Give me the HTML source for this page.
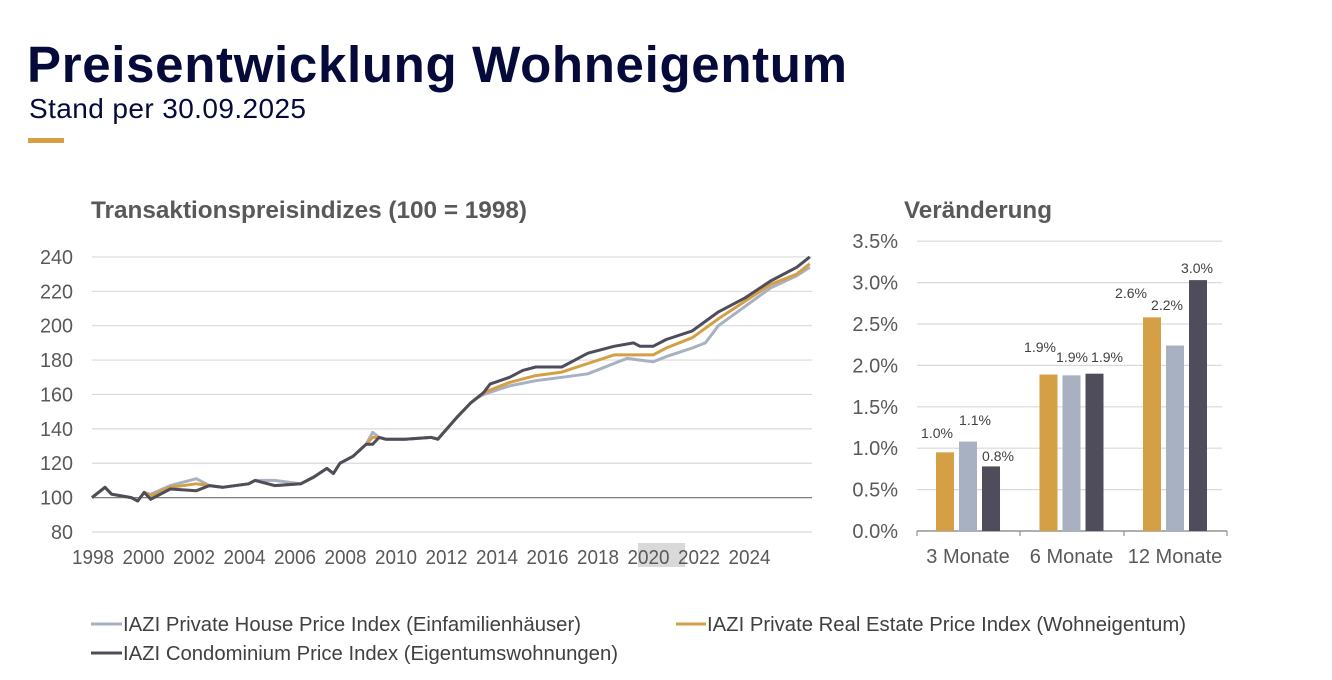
<!DOCTYPE html>
<html><head><meta charset="utf-8"><style>
body{margin:0;background:#fff;width:1332px;height:675px;overflow:hidden;font-family:"Liberation Sans",sans-serif}
</style></head><body>
<svg width="1332" height="675" xmlns="http://www.w3.org/2000/svg" font-family="Liberation Sans, sans-serif">
<text x="27" y="82" font-size="51" font-weight="bold" fill="#050a3a" textLength="820">Preisentwicklung Wohneigentum</text>
<text x="29" y="118" font-size="28" fill="#050a3a" textLength="277">Stand per 30.09.2025</text>
<rect x="28" y="138" width="36" height="5" fill="#d49f45"/>
<text x="91" y="218" font-size="24" font-weight="bold" fill="#595959" textLength="436" lengthAdjust="spacingAndGlyphs">Transaktionspreisindizes (100 = 1998)</text>
<text x="904" y="218" font-size="24" font-weight="bold" fill="#595959" textLength="148" lengthAdjust="spacingAndGlyphs">Veränderung</text>
<g id="lc"></g>
<g id="bc"></g>
<g font-size="20" fill="#404040">
<line x1="91" y1="624" x2="122" y2="624" stroke="#a7b1c2" stroke-width="3"/>
<text x="123" y="631" textLength="458" lengthAdjust="spacingAndGlyphs">IAZI Private House Price Index (Einfamilienhäuser)</text>
<line x1="676" y1="624" x2="706" y2="624" stroke="#d49f45" stroke-width="3"/>
<text x="707" y="631" textLength="479" lengthAdjust="spacingAndGlyphs">IAZI Private Real Estate Price Index (Wohneigentum)</text>
<line x1="91" y1="653" x2="122" y2="653" stroke="#4f4d5c" stroke-width="3"/>
<text x="123" y="660" textLength="495" lengthAdjust="spacingAndGlyphs">IAZI Condominium Price Index (Eigentumswohnungen)</text>
</g>
</svg>
<script>
const NS="http://www.w3.org/2000/svg";
function el(p,t,a,txt){const e=document.createElementNS(NS,t);for(const k in a)e.setAttribute(k,a[k]);if(txt!==undefined)e.textContent=txt;p.appendChild(e);return e;}
const lc=document.getElementById('lc');
const Y=v=>497.6-(v-100)*1.719;
for(let v=80;v<=240;v+=20){if(v!=100)el(lc,'line',{x1:92,x2:812,y1:Y(v),y2:Y(v),stroke:'#d9d9d9','stroke-width':1.2});
el(lc,'text',{x:73,y:Y(v)+7,'font-size':20,fill:'#595959','text-anchor':'end',textLength:v<100?22:33,lengthAdjust:'spacingAndGlyphs'},v);}
el(lc,'line',{x1:92,x2:812,y1:Y(100),y2:Y(100),stroke:'#7f7f7f','stroke-width':1.2});
el(lc,'rect',{x:638,y:543,width:47,height:24,fill:'#d9d9d9'});
for(let i=0;i<14;i++){el(lc,'text',{x:93+i*50.5,y:564,'font-size':20,fill:'#595959','text-anchor':'middle',textLength:42,lengthAdjust:'spacingAndGlyphs'},1998+2*i);}
const X=t=>92+(t-1998)*26.1;
const common=[[1998,100],[1998.5,106],[1998.75,102],[1999.5,100],[1999.75,98],[2000,103],[2000.25,99],[2001,105],[2002,104],[2002.5,107],[2003,106],[2004,108],[2004.25,110],[2005,107],[2006,108],[2006.5,112],[2007,117],[2007.25,114],[2007.5,120],[2008,124],[2008.5,131],[2008.75,131],[2009,135],[2009.25,134],[2010,134],[2011,135],[2011.25,134],[2012,147],[2012.5,155],[2012.75,158]];
const condo=common.concat([[2013,161],[2013.25,166],[2014,170],[2014.5,174],[2015,176],[2016,176],[2017,184],[2018,188],[2018.75,190],[2019,188],[2019.5,188],[2020,192],[2021,197],[2022,208],[2023,216],[2024,226],[2025,234],[2025.5,240]]);
const orng=common.map(p=>{let v=p[1];if(p[0]==2001)v=106;if(p[0]==2002)v=108;if(p[0]==2000.25)v=101;if(p[0]==2008.75)v=135;return [p[0],v];}).concat([[2013,161],[2014,167],[2015,171],[2016,173],[2017,178],[2018,183],[2019,183],[2019.5,183],[2020,187],[2021,193],[2022,204],[2023,214],[2024,224],[2025,230],[2025.5,236]]);
const gray=common.map(p=>{let v=p[1];if(p[0]==2001)v=107;if(p[0]==2002)v=111;if(p[0]==2000.25)v=102;if(p[0]==2008.75)v=138;if(p[0]==2005)v=110;return [p[0],v];}).concat([[2013,160],[2014,165],[2015,168],[2016,170],[2017,172],[2018,178],[2018.5,181],[2019.5,179],[2020,182],[2021,187],[2021.5,190],[2022,200],[2023,211],[2024,222],[2025,229],[2025.5,234]]);
function line(d,c){el(lc,'polyline',{points:d.map(p=>X(p[0]).toFixed(1)+','+Y(p[1]).toFixed(1)).join(' '),fill:'none',stroke:c,'stroke-width':3,'stroke-linejoin':'round'});}
line(gray,'#a7b1c2');line(orng,'#d49f45');line(condo,'#4f4d5c');
const bc=document.getElementById('bc');
const B=v=>531-v*82.8;
for(let i=0;i<=7;i++){const v=i*0.5;if(i>0)el(bc,'line',{x1:917,x2:1222,y1:B(v),y2:B(v),stroke:'#d9d9d9','stroke-width':1.2});
el(bc,'text',{x:898,y:B(v)+7,'font-size':20,fill:'#595959','text-anchor':'end'},v.toFixed(1)+'%');}
el(bc,'line',{x1:917,x2:1227,y1:531,y2:531,stroke:'#7f7f7f','stroke-width':1.2});
[917,1020,1124,1227].forEach(x=>el(bc,'line',{x1:x,x2:x,y1:531,y2:536,stroke:'#7f7f7f'}));
const data=[[0.95,1.08,0.78],[1.89,1.88,1.9],[2.58,2.24,3.03]];
const lab=[['1.0%','1.1%','0.8%'],['1.9%','1.9%','1.9%'],['2.6%','2.2%','3.0%']];
const lx=[[937,975,998],[1040,1072,1107],[1131,1167,1197]];
const ly=[[438,425,461],[352,362,362],[298,310,273]];
const cols=['#d49f45','#a7b1c2','#4f4d5c'];
const names=['3 Monate','6 Monate','12 Monate'];
for(let g=0;g<3;g++){const c=968+g*103.5;
for(let k=0;k<3;k++){const x=c-23+k*23;const v=data[g][k];
el(bc,'rect',{x:x-9,y:B(v),width:18,height:531-B(v),fill:cols[k]});
el(bc,'text',{x:lx[g][k],y:ly[g][k],'font-size':14,fill:'#404040','text-anchor':'middle'},lab[g][k]);}
el(bc,'text',{x:c,y:563,'font-size':20,fill:'#595959','text-anchor':'middle'},names[g]);}
</script>
</body></html>
